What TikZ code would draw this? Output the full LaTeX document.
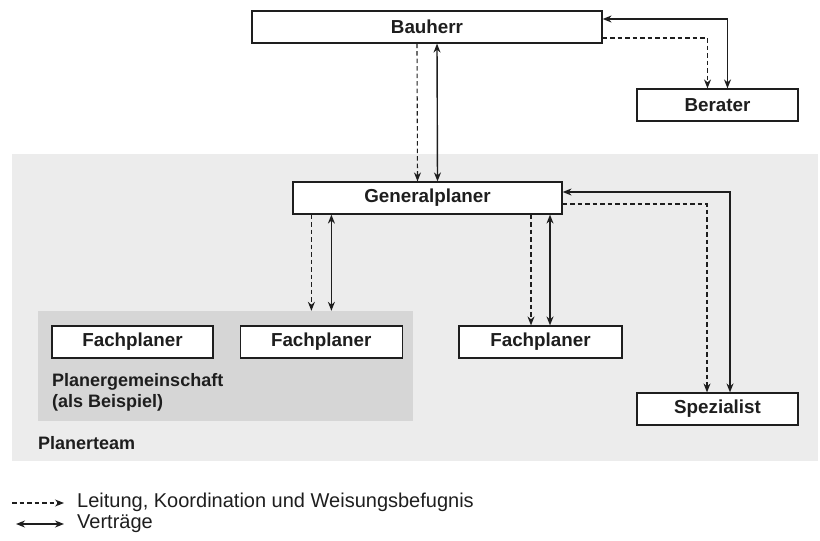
\documentclass[tikz,border=0pt]{standalone}
\usepackage{fontspec}
\setmainfont{Liberation Sans}
\usetikzlibrary{positioning,arrows.meta}
\definecolor{teamgrey}{HTML}{ECECEC}
\definecolor{pggrey}{HTML}{D6D6D6}
\definecolor{ink}{HTML}{1E1E1E}

\begin{document}
\begin{tikzpicture}[x=1pt,y=-1pt,
  box/.style={draw=ink, line width=1.2pt, fill=white, minimum height=32pt,
              inner sep=0pt, text=ink, font=\fontsize{18.8}{20}\selectfont\bfseries},
  grouplabel/.style={inner sep=0pt, text=ink, font=\fontsize{18}{21}\selectfont\bfseries},
  legendtext/.style={inner sep=0pt, text=ink, font=\fontsize{20}{22}\selectfont},
  lead/.style={draw=ink, line width=1.1pt, dash pattern=on 4.5pt off 3pt,
               -{Stealth[length=9pt,width=7pt]}},
  contract/.style={draw=ink, line width=1.4pt,
                   {Stealth[length=9pt,width=7pt]}-{Stealth[length=9pt,width=7pt]}}]
\useasboundingbox (0,0) rectangle (820,541);

\node[fill=teamgrey, minimum width=806pt, minimum height=307pt, inner sep=0pt] (team) at (415,307.5) {};
\node[fill=pggrey, minimum width=375pt, minimum height=110pt, inner sep=0pt] (pg) at (225.5,366) {};

\node[box, minimum width=350pt] (bauherr) at (427,27) {Bauherr};
\node[box, minimum width=161pt] (berater) at (717.5,105) {Berater};
\node[box, minimum width=269pt] (general) at (427.5,198) {Generalplaner};
\node[box, minimum width=161pt] (fp1) at (132.5,342) {Fachplaner};
\node[box, minimum width=162pt] (fp2) [right=26pt of fp1] {Fachplaner};
\node[box, minimum width=163pt] (fp3) at (540.5,342) {Fachplaner};
\node[box, minimum width=161pt] (spez) at (717.5,409) {Spezialist};

\node[grouplabel, anchor=north west, align=left] (pglabel) at (52,373) {Planergemeinschaft\\(als Beispiel)};
\node[grouplabel, anchor=base west] (teamlabel) at (38,449) {Planerteam};

\draw[lead] ([xshift=-10pt]bauherr.south) -- ([xshift=-10pt]general.north);
\draw[contract] ([xshift=10pt]bauherr.south) -- ([xshift=10pt]general.north);
\draw[lead] ([yshift=-11pt]bauherr.east) -| ([xshift=-10pt]berater.north);
\draw[contract] ([yshift=8pt]bauherr.east) -| ([xshift=10pt]berater.north);

\draw[lead] ([yshift=-6pt]general.east) -| ([xshift=-10.5pt]spez.north);
\draw[contract] ([yshift=6pt]general.east) -| ([xshift=12.5pt]spez.north);
\draw[lead] ([xshift=19pt]general.south west) -- ([xshift=19pt]general.south west |- pg.north);
\draw[contract] ([xshift=39pt]general.south west) -- ([xshift=39pt]general.south west |- pg.north);
\draw[lead] ([xshift=-9.5pt]fp3.north |- general.south) -- ([xshift=-9.5pt]fp3.north);
\draw[contract] ([xshift=9.5pt]fp3.north |- general.south) -- ([xshift=9.5pt]fp3.north);

\node[legendtext, anchor=west] (legLead) at (77,502) {Leitung, Koordination und Weisungsbefugnis};
\node[legendtext, anchor=west] (legContract) at (77,524) {Verträge};
\coordinate (leadStart) at (12,503);
\coordinate (contractStart) at (16,524);
\draw[lead] (leadStart) -- ([xshift=-13pt]legLead.west |- leadStart);
\draw[contract] (contractStart) -- ([xshift=-13pt]legContract.west);
\end{tikzpicture}
\end{document}
